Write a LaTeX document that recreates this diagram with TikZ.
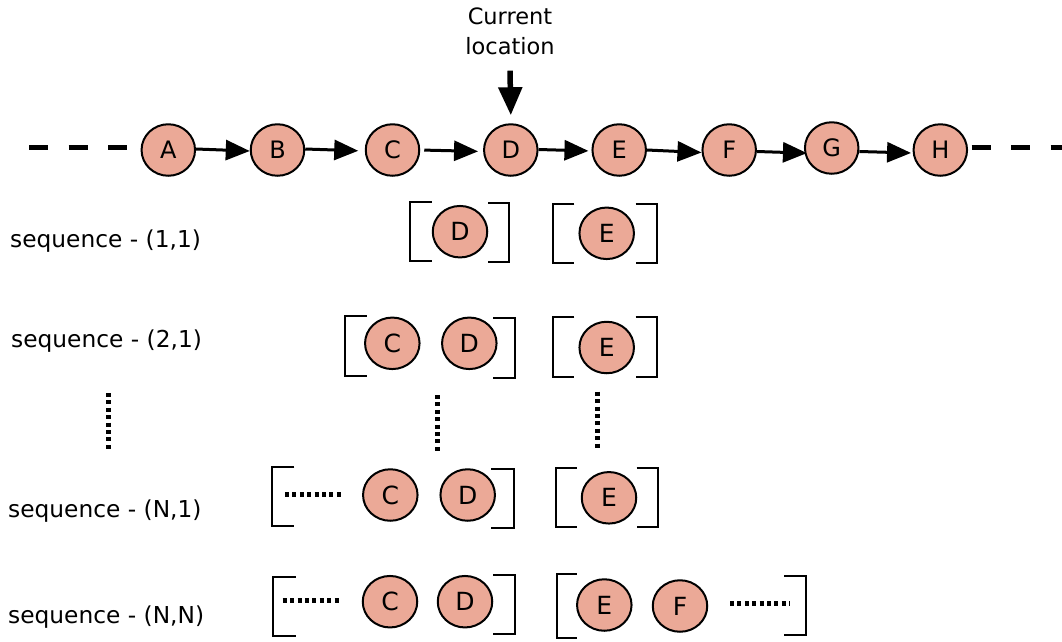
\documentclass[tikz,border=0pt]{standalone}
\usepackage{fontspec}
\setmainfont{DejaVu Sans}
\usetikzlibrary{arrows.meta,shapes.geometric}
\definecolor{nodefill}{RGB}{235,169,151}
\begin{document}
\begin{tikzpicture}[x=1pt,y=-1pt,
  topnode/.style={ellipse,draw=black,line width=2pt,fill=nodefill,minimum width=53.5pt,minimum height=51.5pt,inner sep=0pt,font=\fontsize{24}{28}\selectfont},
  rownode/.style={topnode,minimum width=54.5pt,minimum height=51.5pt,font=\fontsize{25}{29}\selectfont},
  link/.style={line width=3pt,-{Triangle[length=24pt,width=20pt]}},
  curarrow/.style={line width=5.5pt,-{Triangle[length=28pt,width=23pt]}},
  brk/.style={line width=2pt},
  dotline/.style={line width=5pt,dash pattern=on 4pt off 3.4pt},
  endash/.style={line width=5.5pt,dash pattern=on 19pt off 20.5pt},
  lbl/.style={anchor=west,inner sep=0pt,font=\fontsize{23.3}{28}\selectfont}]
\useasboundingbox (0,0) rectangle (1062,641);

% ---------- top chain ----------
\node[topnode] (A) at (168.3,150) {A};
\node[topnode] (B) at (277.5,150) {B};
\node[topnode] (C) at (392.5,150) {C};
\node[topnode] (D) at (510.8,150) {D};
\node[topnode] (E) at (619.2,150) {E};
\node[topnode] (F) at (729.2,150) {F};
\node[topnode] (G) at (831.7,148) {G};
\node[topnode] (H) at (940.3,150) {H};

\coordinate (L0) at (29,147.5);
\coordinate (L1) at (127,147.5);
\coordinate (R0) at (971.7,147.5);
\coordinate (R1) at (1062,147.5);
\draw[endash] (L0) -- (L1);
\draw[endash] (R0) -- (R1);

\draw[link] ([yshift=1pt]A.east) -- ([yshift=-1pt]B.west);
\draw[link,shorten >=6.5pt] ([yshift=1pt]B.east) -- ([yshift=-1pt]C.west);
\draw[link,shorten <=4pt,shorten >=5pt] ([yshift=0pt]C.east) -- ([yshift=-1.5pt]D.west);
\draw[link,shorten >=3pt] ([yshift=0.5pt]D.east) -- ([yshift=-1pt]E.west);
\draw[link] ([yshift=0pt]E.east) -- ([yshift=-2.5pt]F.west);
\draw[link,shorten >=-3pt] ([yshift=-1.5pt]F.east) -- ([yshift=-5pt]G.west);
\draw[link,shorten >=1.5pt] ([yshift=-3.5pt]G.east) -- ([yshift=-3pt]H.west);

\node[align=center,inner sep=0pt,font=\fontsize{22.5}{30}\selectfont] (cur) at (510,31) {Current\\location};
\coordinate (curtop) at (510,70.7);
\draw[curarrow] (curtop) -- ([yshift=8pt]D.north);

% ---------- labels ----------
\node[lbl] (s11) at (10,240.8) {sequence - (1,1)};
\node[lbl] (s21) at (11,340.8) {sequence - (2,1)};
\node[lbl] (sN1) at (8,510.8) {sequence - (N,1)};
\node[lbl] (sNN) at (8,617.5) {sequence - (N,N)};

% ---------- row 1 ----------
\node[rownode] (r1D) at (460,231.7) {D};
\node[rownode] (r1E) at (606.7,233.3) {E};
\draw[brk] (431.7,201.7) -- (410,201.7) -- (410,260.7) -- (431.7,260.7);
\draw[brk] (488.3,202.7) -- (509.3,202.7) -- (509.3,261.7) -- (488.3,261.7);
\draw[brk] (574.3,204) -- (553.3,204) -- (553.3,263.3) -- (574.3,263.3);
\draw[brk] (635.7,204) -- (656.7,204) -- (656.7,263.3) -- (635.7,263.3);

% ---------- row 2 ----------
\node[rownode] (r2C) at (392.3,343.3) {C};
\node[rownode] (r2D) at (469.3,343.3) {D};
\node[rownode] (r2E) at (606.7,347.5) {E};
\draw[brk] (366.7,316) -- (345,316) -- (345,375.7) -- (366.7,375.7);
\draw[brk] (493.3,318.3) -- (515,318.3) -- (515,377.7) -- (493.3,377.7);
\draw[brk] (574.3,317.3) -- (553.3,317.3) -- (553.3,377.3) -- (574.3,377.3);
\draw[brk] (635.7,317.3) -- (656.7,317.3) -- (656.7,377.3) -- (635.7,377.3);

% ---------- vertical ellipsis ----------
\draw[dotline] (108.3,393) -- (108.3,451.7);
\draw[dotline] (437.7,395) -- (437.7,454);
\draw[dotline] (597.3,391.7) -- (597.3,450);

% ---------- row 3 ----------
\node[rownode] (r3C) at (390.3,495) {C};
\node[rownode] (r3D) at (467.7,495) {D};
\node[rownode] (r3E) at (609,497.8) {E};
\draw[dotline] (285,494) -- (343.3,494);
\draw[brk] (294.3,467.3) -- (272.3,467.3) -- (272.3,525.7) -- (294.3,525.7);
\draw[brk] (491,469) -- (514,469) -- (514,527.7) -- (491,527.7);
\draw[brk] (576.7,467.7) -- (555.7,467.7) -- (555.7,526.7) -- (576.7,526.7);
\draw[brk] (636.7,467.7) -- (658.3,467.7) -- (658.3,526.7) -- (636.7,526.7);

% ---------- row 4 ----------
\node[rownode] (r4C) at (390,601.7) {C};
\node[rownode] (r4D) at (465,601.7) {D};
\node[rownode] (r4E) at (604.3,605) {E};
\node[rownode] (r4F) at (680,606) {F};
\draw[dotline] (282.7,600) -- (341,600);
\draw[dotline] (730,603.3) -- (789.3,603.3);
\draw[brk] (295.7,576.7) -- (273.3,576.7) -- (273.3,636) -- (295.7,636);
\draw[brk] (493.3,575) -- (515,575) -- (515,634) -- (493.3,634);
\draw[brk] (576.7,574) -- (556.7,574) -- (556.7,637.5) -- (576.7,637.5);
\draw[brk] (784,575.7) -- (806,575.7) -- (806,635) -- (784,635);
\end{tikzpicture}
\end{document}
